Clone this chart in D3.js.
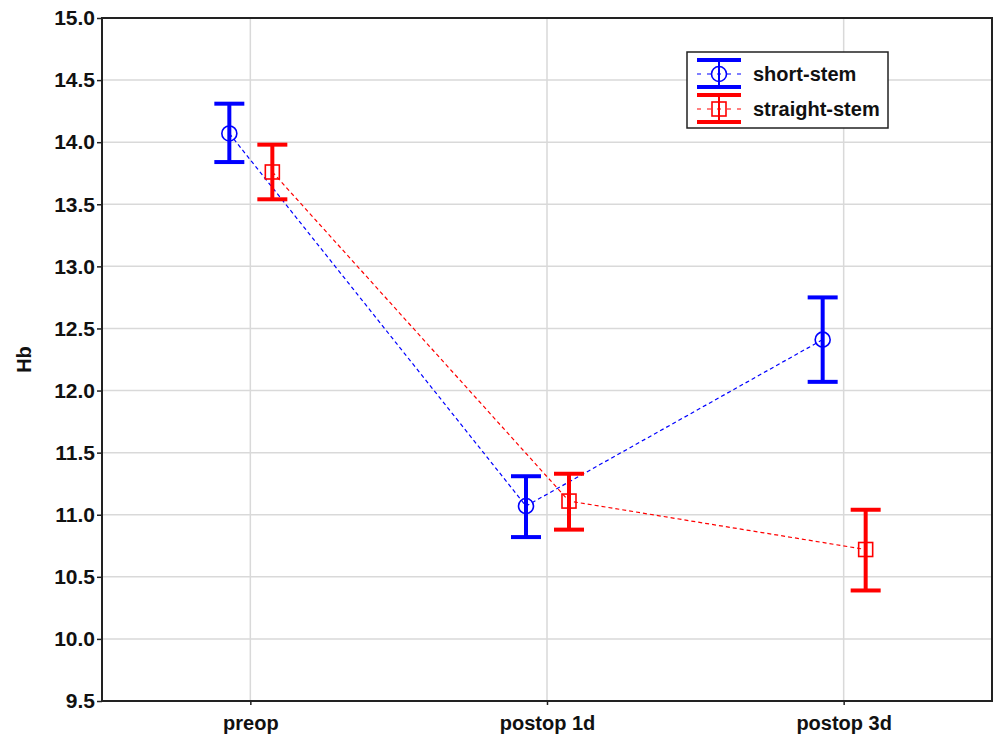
<!DOCTYPE html>
<html><head><meta charset="utf-8">
<script src="https://cdn.jsdelivr.net/npm/d3@7"></script>
<style>body{margin:0;background:#fff;} text{font-family:Arial,"Liberation Sans",sans-serif;font-weight:bold;}</style>
</head><body>
<svg id="c" width="994" height="737"></svg>
<script>
const categories = ["preop", "postop 1d", "postop 3d"];
const seriesNames = ["short-stem", "straight-stem"];
const shortMean = [14.07, 11.07, 12.41];
const shortLow  = [13.84, 10.82, 12.07];
const shortHigh = [14.31, 11.31, 12.75];
const straightMean = [13.76, 11.11, 10.72];
const straightLow  = [13.54, 10.88, 10.39];
const straightHigh = [13.98, 11.33, 11.04];
const yTicks = [9.5,10.0,10.5,11.0,11.5,12.0,12.5,13.0,13.5,14.0,14.5,15.0];

const svg = d3.select("#c");
const L=102, R=992, T=18, B=701;
const x = d3.scalePoint().domain(categories).range([L,R]).padding(0.5);
const y = d3.scaleLinear().domain([9.5,15.0]).range([B,T]);

// grid
svg.append("g").selectAll("line").data(yTicks).join("line")
  .attr("x1",L).attr("x2",R).attr("y1",d=>y(d)).attr("y2",d=>y(d))
  .attr("stroke","#d9d9d9").attr("stroke-width",1.5);
svg.append("g").selectAll("line").data(categories).join("line")
  .attr("x1",d=>x(d)).attr("x2",d=>x(d)).attr("y1",T).attr("y2",B)
  .attr("stroke","#d9d9d9").attr("stroke-width",1.5);

// axes
const ya = svg.append("g").attr("transform",`translate(${L},0)`)
  .call(d3.axisLeft(y).tickValues(yTicks).tickFormat(d3.format(".1f")).tickSize(5).tickPadding(2));
ya.selectAll("text").attr("font-size",21).attr("fill","#111");
const xa = svg.append("g").attr("transform",`translate(0,${B})`)
  .call(d3.axisBottom(x).tickSize(4).tickPadding(11));
xa.selectAll("text").attr("font-size",20).attr("fill","#111");
svg.selectAll(".domain").remove();
svg.selectAll(".tick line").attr("stroke","#222").attr("stroke-width",1.5);
svg.append("rect").attr("x",L).attr("y",T).attr("width",R-L).attr("height",B-T)
  .attr("fill","none").attr("stroke","#222").attr("stroke-width",2);

svg.append("text").attr("transform",`translate(31,${(T+B)/2}) rotate(-90)`)
  .attr("text-anchor","middle").attr("font-size",20).attr("fill","#111").text("Hb");

const series = [
  {name:seriesNames[0], mean:shortMean, lo:shortLow, hi:shortHigh, color:"#0000ff", off:-21, shape:"circle"},
  {name:seriesNames[1], mean:straightMean, lo:straightLow, hi:straightHigh, color:"#ff0000", off:22, shape:"square"}
];
const capW = 30;

function marker(g, shape, cx, cy, color){
  if(shape==="circle"){
    g.append("circle").attr("cx",cx).attr("cy",cy).attr("r",7.5)
      .attr("fill","none").attr("stroke",color).attr("stroke-width",1.6);
  } else {
    g.append("rect").attr("x",cx-7).attr("y",cy-7).attr("width",14).attr("height",14)
      .attr("fill","none").attr("stroke",color).attr("stroke-width",1.6);
  }
}

series.forEach(s=>{
  const g = svg.append("g");
  const pts = categories.map((c,i)=>({cx:x(c)+s.off, m:s.mean[i], lo:s.lo[i], hi:s.hi[i]}));
  g.append("path").attr("d", d3.line().x(d=>d.cx).y(d=>y(d.m))(pts))
    .attr("fill","none").attr("stroke",s.color).attr("stroke-width",1.2).attr("stroke-dasharray","4,3");
  pts.forEach(p=>{
    g.append("line").attr("x1",p.cx).attr("x2",p.cx).attr("y1",y(p.lo)).attr("y2",y(p.hi))
      .attr("stroke",s.color).attr("stroke-width",4);
    [p.lo,p.hi].forEach(v=>g.append("line").attr("x1",p.cx-capW/2).attr("x2",p.cx+capW/2)
      .attr("y1",y(v)).attr("y2",y(v)).attr("stroke",s.color).attr("stroke-width",4));
    marker(g, s.shape, p.cx, y(p.m), s.color);
  });
});

// legend
const lg = svg.append("g");
lg.append("rect").attr("x",687).attr("y",52).attr("width",201).attr("height",76)
  .attr("fill","#fff").attr("stroke","#222").attr("stroke-width",1.5);
series.forEach((s,i)=>{
  const cy = 74 + i*35, cx = 719;
  lg.append("line").attr("x1",697).attr("x2",742).attr("y1",cy).attr("y2",cy)
    .attr("stroke",s.color).attr("stroke-width",1.2).attr("stroke-dasharray","4,6");
  [cy-14, cy+13].forEach(yy=>lg.append("line").attr("x1",cx-22).attr("x2",cx+22)
    .attr("y1",yy).attr("y2",yy).attr("stroke",s.color).attr("stroke-width",4));
  lg.append("line").attr("x1",cx).attr("x2",cx).attr("y1",cy-14).attr("y2",cy+13)
    .attr("stroke",s.color).attr("stroke-width",2);
  marker(lg, s.shape, cx, cy, s.color);
  lg.append("text").attr("x",753).attr("y",cy+7).attr("font-size",20).attr("fill","#111").text(s.name);
});
</script>
</body></html>
